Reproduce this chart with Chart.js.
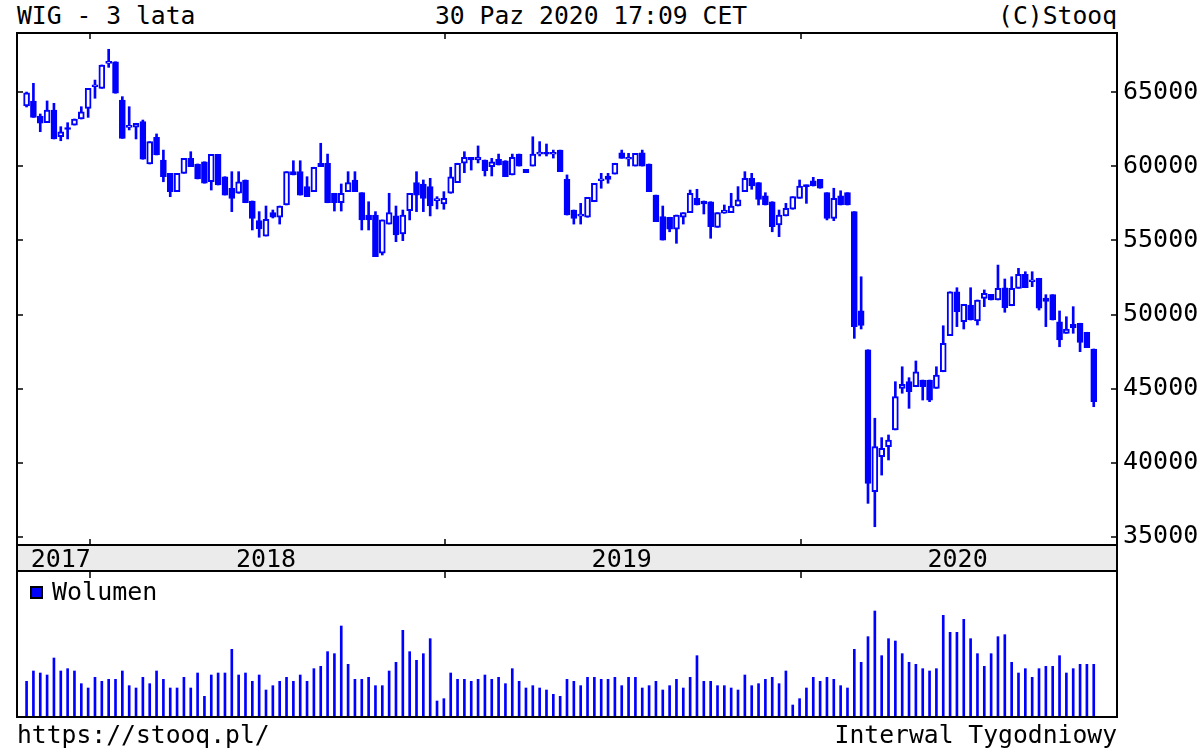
<!DOCTYPE html>
<html>
<head>
<meta charset="utf-8">
<title>WIG - 3 lata</title>
<script src="https://cdn.jsdelivr.net/npm/chart.js@4.4.1/dist/chart.umd.min.js"></script>
<style>
  html, body { margin: 0; padding: 0; background: #fff; }
  #wrap { position: relative; width: 1200px; height: 750px; overflow: hidden;
          font-family: 'DejaVu Sans Mono', monospace; font-size: 24.7px; color: #000; }
  .txt { position: absolute; line-height: 25px; white-space: pre; }
  canvas { position: absolute; left: 0; }
</style>
</head>
<body>
<div id="wrap">
  <div class="txt" style="left:17px;top:3px">WIG - 3 lata</div>
  <div class="txt" style="left:435px;top:3px">30 Paz 2020 17:09 CET</div>
  <div class="txt" style="right:83px;top:3px">(C)Stooq</div>
  <canvas id="cPrice" width="1200" height="572" style="top:0"></canvas>
  <canvas id="cVol" width="1200" height="178" style="top:572px"></canvas>
  <div class="txt" style="left:17px;top:722px">https://stooq.pl/</div>
  <div class="txt" style="right:83px;top:722px">Interwal Tygodniowy</div>
</div>
<script>
// weekly candles, week of 30 Oct 2017 .. week of 26 Oct 2020 (index 0..156)
const OPEN = [
  64090, 64425, 63410, 62960, 63820, 62010, 62520, 62800, 63210, 63930,
  65390, 65280, 66970, 67080, 64490, 62640, 62650, 63030, 60170, 61970,
  60440, 59540, 58300, 59540, 60550, 60170, 60320, 58970, 60820, 59310,
  58530, 58190, 59090, 57670, 56340, 55300, 56880, 56570, 57400, 59650,
  59650, 58640, 58300, 60220, 60220, 58190, 57550, 58300, 59090, 58230,
  56720, 56720, 54140, 56110, 56660, 55440, 57010, 58910, 58820, 58640,
  57690, 57470, 58190, 58910, 60220, 60620, 60440, 60440, 59990, 60490,
  60390, 59430, 60840, 59810, 60030, 60840, 60840, 60830, 61110, 59130,
  57060, 56650, 56570, 57620, 59040, 59360, 59490, 60930, 60490, 60030,
  60930, 60170, 58070, 56610, 56570, 55760, 56570, 56880, 57850, 57670,
  57620, 55890, 56840, 56880, 57330, 58300, 59200, 58910, 58010, 57620,
  56050, 56660, 57110, 57850, 58750, 59040, 59130, 58230, 56500, 58010,
  58230, 56950, 50240, 47620, 38030, 40390, 41070, 42200, 45010, 45460,
  45120, 45570, 45570, 45010, 46130, 48570, 51540, 49510, 50640, 49560,
  51090, 51360, 50980, 51810, 50590, 51770, 52720, 52210, 52450, 51110,
  51340, 49510, 48730, 49340, 49410, 48800, 47670
];
const HIGH = [
  65030, 65620, 63550, 64430, 64270, 62690, 62960, 63210, 64040, 65280,
  65840, 66860, 67920, 67080, 64720, 64040, 62920, 63140, 61680, 62200,
  61110, 59540, 59540, 60550, 61000, 60170, 60320, 60820, 60820, 59310,
  59650, 59650, 59090, 57670, 56950, 57330, 57060, 57330, 59650, 60390,
  60390, 59310, 59950, 61570, 60840, 58190, 58820, 59650, 59650, 58230,
  57620, 56950, 56390, 58190, 57330, 57060, 58190, 59650, 59090, 59200,
  57960, 58300, 59950, 60220, 61000, 60620, 61390, 60440, 60550, 60840,
  60390, 60840, 60840, 59810, 62010, 61680, 61520, 61110, 61110, 59430,
  57060, 57510, 57920, 58860, 59540, 59540, 60220, 61110, 60890, 60890,
  61110, 60170, 58070, 57330, 56570, 56720, 56880, 58410, 58460, 57670,
  57620, 56880, 57400, 58190, 58640, 59650, 59540, 58910, 58230, 57620,
  57060, 57510, 57960, 59090, 58750, 59270, 59130, 58230, 58530, 58360,
  58230, 56950, 52550, 47620, 42990, 41680, 41860, 45460, 46470, 45730,
  46860, 45570, 45570, 46470, 49240, 51540, 51810, 50690, 51810, 50980,
  51660, 51360, 53340, 52400, 52550, 53120, 52890, 52890, 52450, 51340,
  51340, 50240, 49850, 50530, 49410, 48800, 47670
];
const LOW = [
  64020, 63320, 62350, 62960, 61860, 61740, 61860, 62800, 63210, 63320,
  64610, 65280, 66700, 64950, 61900, 62470, 61860, 60490, 60170, 60780,
  58970, 57960, 58300, 59540, 59990, 59160, 58870, 58410, 58750, 58070,
  56950, 58190, 57550, 55710, 55220, 55300, 56520, 56110, 57400, 59430,
  58070, 57960, 58300, 59990, 57550, 56990, 56990, 58300, 58300, 55710,
  55710, 53910, 54020, 56110, 54920, 54990, 56390, 56950, 56950, 56660,
  57130, 57110, 58190, 58910, 59580, 59760, 60240, 59360, 59360, 60100,
  59310, 59430, 60030, 59580, 60030, 60710, 60710, 60570, 59650, 56720,
  56110, 56110, 56570, 57620, 58530, 58870, 59490, 60550, 60030, 60030,
  60030, 58300, 56270, 55030, 55590, 54810, 56110, 56880, 57400, 56790,
  55150, 55890, 56840, 56880, 57330, 58300, 58460, 57400, 57400, 55590,
  55260, 56660, 57110, 57850, 57510, 58680, 58530, 56390, 56340, 57400,
  57400, 48390, 49020, 37240, 35660, 39150, 40170, 42200, 44680, 43660,
  45120, 44220, 44110, 45010, 46130, 48570, 49180, 49020, 49630, 49290,
  50530, 50980, 50980, 50150, 50590, 51770, 51810, 51880, 50300, 49180,
  49630, 47820, 48730, 48730, 47490, 47760, 43770
];
const CLOSE = [
  64970, 63320, 62920, 63820, 61860, 62350, 62500, 63210, 63700, 65280,
  65400, 66860, 67000, 64950, 61900, 62660, 62920, 60490, 61680, 60780,
  59310, 58300, 59540, 60550, 59990, 59160, 58870, 60820, 58750, 58070,
  57850, 58970, 57550, 56500, 55780, 56430, 56570, 57330, 59650, 59430,
  58070, 57960, 59950, 59990, 57550, 57550, 58190, 58910, 58300, 56390,
  56390, 53910, 56390, 56880, 55370, 56720, 58190, 58070, 57850, 57330,
  57700, 57850, 59310, 60220, 60620, 60440, 60640, 59720, 60320, 60100,
  59310, 60620, 60030, 59580, 60840, 60850, 60830, 60840, 59650, 56720,
  56500, 56660, 57920, 58860, 59050, 59130, 60220, 60550, 60500, 60890,
  60030, 58300, 56270, 55030, 55760, 56720, 56880, 58190, 57400, 57470,
  55930, 56880, 57060, 57330, 57740, 59200, 58680, 57780, 57400, 55930,
  56720, 57180, 57960, 58680, 58640, 58680, 58530, 56500, 57850, 57400,
  57400, 49180, 49260, 38590, 41070, 40960, 41520, 44450, 45280, 44780,
  46130, 45120, 44220, 45910, 48050, 51540, 50190, 50690, 49630, 50980,
  51430, 50980, 51770, 50460, 51770, 52720, 51810, 52220, 50420, 50890,
  49630, 48280, 49020, 49110, 48120, 47760, 44110
];
// relative weekly volume (no scale shown in the picture)
const VOLUME = [
  104, 135, 129, 123, 174, 135, 142, 135, 97, 84,
  116, 104, 110, 110, 135, 91, 84, 116, 97, 135,
  110, 84, 84, 116, 84, 129, 59, 123, 129, 129,
  200, 123, 129, 104, 123, 78, 91, 104, 116, 104,
  123, 104, 142, 149, 193, 187, 270, 155, 110, 110,
  116, 91, 91, 135, 161, 257, 193, 167, 187, 232,
  45, 52, 129, 110, 110, 104, 110, 123, 110, 116,
  97, 142, 104, 84, 91, 84, 78, 65, 59, 110,
  104, 91, 116, 116, 110, 110, 116, 91, 116, 116,
  84, 91, 104, 78, 91, 110, 84, 116, 181, 104,
  104, 91, 91, 84, 78, 123, 91, 97, 110, 116,
  97, 135, 33, 52, 84, 116, 104, 116, 110, 91,
  84, 200, 161, 238, 315, 181, 232, 225, 187, 161,
  155, 142, 135, 142, 302, 251, 251, 290, 232, 187,
  149, 187, 238, 244, 161, 129, 142, 116, 142, 149,
  149, 181, 129, 142, 155, 155, 155
];

const PRICE_TICKS   = [35000, 40000, 45000, 50000, 55000, 60000, 65000];
const PRICE_RANGE   = [34426, 69020];
const VOL_RANGE     = [0, 432];
const WEEK_RANGE    = [-1.4, 159.4];
const YEAR_LABELS   = ['2017', '2018', '2019', '2020'];
const YEAR_LABEL_AT = [5.0, 35.0, 87.0, 136.1];
const YEAR_STARTS   = [9.2, 61.2, 113.2];

const BLUE = '#0000ff';
const MONO = "'DejaVu Sans Mono', monospace";
const weeks = OPEN.map((_, i) => i);

function yearTicks(ctx, xs, y0, dir) {
  YEAR_STARTS.forEach(v => {
    const x = Math.round(xs.getPixelForValue(v));
    ctx.moveTo(x, y0); ctx.lineTo(x, y0 + dir * 6);
  });
}

const pricePanel = {
  id: 'pricePanel',
  beforeDraw(c) {
    const { ctx, chartArea: a } = c;
    ctx.save();
    ctx.fillStyle = '#ebebeb';
    ctx.fillRect(a.left, a.bottom, a.right - a.left, c.scales.x.bottom - a.bottom);
    ctx.restore();
  },
  afterDraw(c) {
    const { ctx, chartArea: a } = c;
    const xs = c.scales.x, ys = c.scales.y;
    const bot = c.scales.x.bottom - 1;
    ctx.save();
    ctx.strokeStyle = '#000';
    ctx.lineWidth = 2;
    ctx.strokeRect(a.left, a.top, a.right - a.left, bot - a.top);
    ctx.beginPath();
    ctx.moveTo(a.left, a.bottom); ctx.lineTo(a.right, a.bottom);
    ctx.stroke();
    ctx.lineWidth = 1.5;
    ctx.beginPath();
    PRICE_TICKS.forEach(v => {
      const y = Math.round(ys.getPixelForValue(v));
      ctx.moveTo(a.left, y); ctx.lineTo(a.left + 6, y);
      ctx.moveTo(a.right - 6, y); ctx.lineTo(a.right, y);
    });
    yearTicks(ctx, xs, a.top, 1);
    yearTicks(ctx, xs, a.bottom, -1);
    ctx.stroke();
    ctx.restore();
  }
};

const volPanel = {
  id: 'volPanel',
  afterDraw(c) {
    const { ctx, chartArea: a } = c;
    const ds = c.data.datasets[0];
    ctx.save();
    ctx.strokeStyle = '#000';
    ctx.lineWidth = 2;
    ctx.beginPath();
    ctx.moveTo(a.left, 0); ctx.lineTo(a.left, a.bottom + 2);
    ctx.moveTo(a.right, 0); ctx.lineTo(a.right, a.bottom + 2);
    ctx.moveTo(a.left - 1, a.bottom + 1); ctx.lineTo(a.right + 1, a.bottom + 1);
    ctx.stroke();
    ctx.lineWidth = 1.5;
    ctx.beginPath();
    yearTicks(ctx, c.scales.x, 0, 1);
    ctx.stroke();
    // legend
    ctx.lineWidth = 2;
    ctx.fillStyle = ds.backgroundColor;
    ctx.fillRect(a.left + 14, 15, 11, 11);
    ctx.strokeRect(a.left + 14, 15, 11, 11);
    ctx.fillStyle = '#000';
    ctx.font = '25px ' + MONO;
    ctx.textBaseline = 'alphabetic';
    ctx.fillText(ds.label, a.left + 35, 28);
    ctx.restore();
  }
};

new Chart(document.getElementById('cPrice'), {
  type: 'bar',
  data: {
    datasets: [
      {
        label: 'WIG wick',
        data: weeks.map(i => ({ x: i, y: [LOW[i], HIGH[i]] })),
        backgroundColor: BLUE, borderWidth: 0,
        barThickness: 2, grouped: false, order: 1,
      },
      {
        label: 'WIG',
        data: weeks.map(i => ({ x: i, y: [OPEN[i], CLOSE[i]] })),
        backgroundColor: weeks.map(i => CLOSE[i] >= OPEN[i] ? '#ffffff' : BLUE),
        borderColor: BLUE, borderWidth: 2, borderSkipped: false,
        barThickness: 6, minBarLength: 2, grouped: false, order: 0,
      },
    ],
  },
  options: {
    responsive: false, animation: false,
    layout: { padding: { top: 33, left: 17, right: 0, bottom: 0 } },
    plugins: { legend: { display: false }, tooltip: { enabled: false } },
    scales: {
      x: {
        type: 'linear', min: WEEK_RANGE[0], max: WEEK_RANGE[1], offset: false,
        afterBuildTicks: s => { s.ticks = YEAR_LABEL_AT.map(v => ({ value: v })); },
        afterFit: s => { s.height = 27; },
        grid: { display: false, drawTicks: false },
        border: { display: false },
        ticks: { autoSkip: false, maxRotation: 0, minRotation: 0, padding: 0, color: '#000',
                 font: { family: MONO, size: 25 }, callback: (v, i) => YEAR_LABELS[i] },
      },
      y: {
        position: 'right', min: PRICE_RANGE[0], max: PRICE_RANGE[1],
        afterBuildTicks: s => { s.ticks = PRICE_TICKS.map(v => ({ value: v })); },
        afterFit: s => { s.width = 83; },
        grid: { display: false, drawTicks: false },
        border: { display: false },
        ticks: { padding: 6, color: '#000', font: { family: MONO, size: 25 }, callback: v => String(v) },
      },
    },
  },
  plugins: [pricePanel],
});

new Chart(document.getElementById('cVol'), {
  type: 'bar',
  data: {
    datasets: [{
      label: 'Wolumen',
      data: weeks.map(i => ({ x: i, y: VOLUME[i] })),
      backgroundColor: BLUE, borderWidth: 0, barThickness: 2,
    }],
  },
  options: {
    responsive: false, animation: false,
    layout: { padding: { top: 0, left: 17, right: 83, bottom: 34 } },
    plugins: { legend: { display: false }, tooltip: { enabled: false } },
    scales: {
      x: { type: 'linear', min: WEEK_RANGE[0], max: WEEK_RANGE[1], offset: false, display: false },
      y: { min: VOL_RANGE[0], max: VOL_RANGE[1], display: false },
    },
  },
  plugins: [volPanel],
});
</script>
</body>
</html>
